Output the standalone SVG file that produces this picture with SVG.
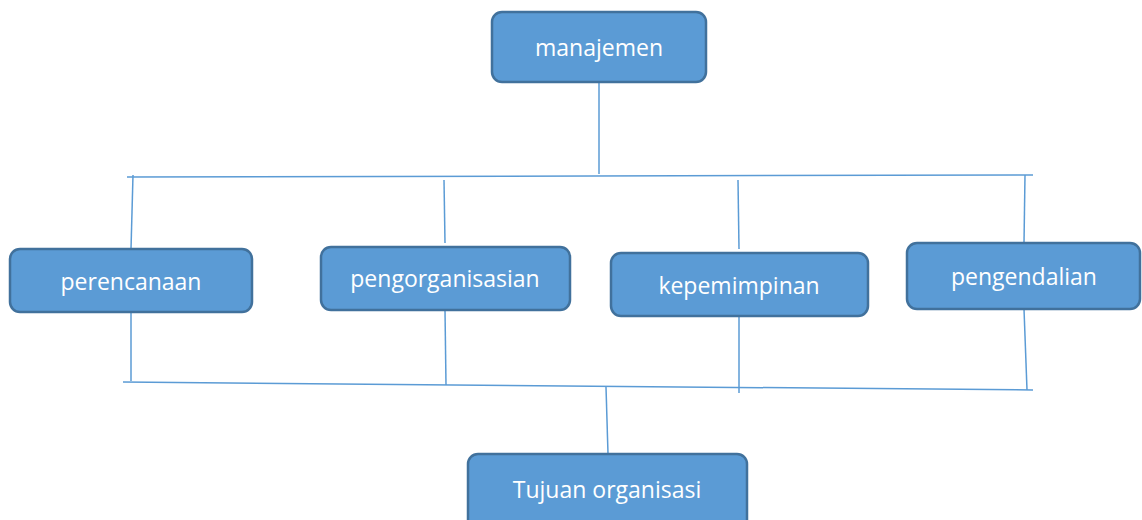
<svg xmlns="http://www.w3.org/2000/svg" width="1142" height="520" viewBox="0 0 1142 520">
<style>
.box{fill:#5B9BD5;stroke:#41719C;stroke-width:2.5}
.lbl{fill:#FFFFFF;font-family:"Open Sans","Liberation Sans",sans-serif;font-size:23px;text-anchor:middle}
.ln{stroke:#5B9BD5;stroke-width:1.5;fill:none}
</style>
<rect width="1142" height="520" fill="#FFFFFF"/>
<g id="connectors">
<line class="ln" x1="599" y1="82" x2="599" y2="174"/>
<line class="ln" x1="127" y1="177" x2="1033" y2="175"/>
<line class="ln" x1="133" y1="175" x2="131" y2="249"/>
<line class="ln" x1="444" y1="180" x2="445" y2="243"/>
<line class="ln" x1="738" y1="180" x2="739" y2="249"/>
<line class="ln" x1="1025" y1="175" x2="1024" y2="243"/>
<line class="ln" x1="131" y1="312" x2="131" y2="381"/>
<line class="ln" x1="445" y1="310" x2="446" y2="385"/>
<line class="ln" x1="739" y1="316" x2="739" y2="393"/>
<line class="ln" x1="1024" y1="309" x2="1027" y2="390"/>
<line class="ln" x1="123" y1="382" x2="1033" y2="390"/>
<line class="ln" x1="606" y1="387" x2="608" y2="454"/>
</g>
<g id="manajemen">
<rect class="box" x="492" y="12" width="214" height="70" rx="10"/>
<text class="lbl" x="599" y="56">manajemen</text>
</g>
<g id="perencanaan">
<rect class="box" x="10" y="249" width="242" height="63" rx="10"/>
<text class="lbl" x="131" y="290">perencanaan</text>
</g>
<g id="pengorganisasian">
<rect class="box" x="321" y="247" width="249" height="63" rx="10"/>
<text class="lbl" x="445" y="287">pengorganisasian</text>
</g>
<g id="kepemimpinan">
<rect class="box" x="611" y="253" width="257" height="63" rx="10"/>
<text class="lbl" x="739" y="294">kepemimpinan</text>
</g>
<g id="pengendalian">
<rect class="box" x="907" y="243" width="233" height="66" rx="10"/>
<text class="lbl" x="1024" y="285">pengendalian</text>
</g>
<g id="tujuan">
<rect class="box" x="468" y="454" width="279" height="80" rx="10"/>
<text class="lbl" x="607" y="498">Tujuan organisasi</text>
</g>
</svg>
